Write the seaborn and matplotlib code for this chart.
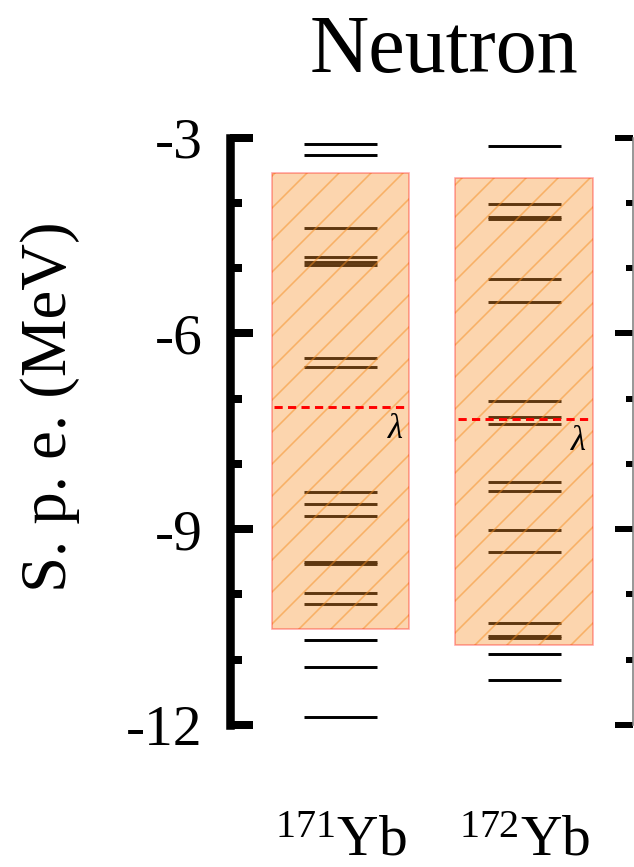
import numpy as np
import pandas as pd
import matplotlib
matplotlib.use("Agg")
import matplotlib.pyplot as plt
from matplotlib.ticker import MultipleLocator
import seaborn as sns

# ---------------- data ----------------
nuclei = ["171Yb", "172Yb"]
nucleus_labels = [r"$^{171}\mathrm{Yb}$", r"$^{172}\mathrm{Yb}$"]
levels_171 = [-3.09, -3.26, -4.38, -4.83, -4.90, -4.95, -6.37, -6.52,
              -8.43, -8.62, -8.79, -9.50, -9.54, -9.97, -10.15,
              -10.69, -11.11, -11.87]
levels_172 = [-3.12, -4.02, -4.21, -4.25, -5.17, -5.52, -7.03, -7.28,
              -7.38, -8.27, -8.41, -9.01, -9.35, -10.44, -10.63, -10.67,
              -10.91, -11.31]
fermi = [-7.12, -7.31]
window_top = [-3.54, -3.62]
window_bottom = [-10.53, -10.78]
yticks = [-3, -6, -9, -12]
ytick_labels = ["-3", "-6", "-9", "-12"]

# ---------------- style ----------------
sns.set_style("ticks")
plt.rcParams["font.family"] = ["Liberation Serif", "DejaVu Serif"]
plt.rcParams["mathtext.fontset"] = "custom"
plt.rcParams["mathtext.rm"] = "Liberation Serif"
plt.rcParams["mathtext.it"] = "Liberation Serif:italic"
plt.rcParams["hatch.linewidth"] = 0.6
plt.rcParams["axes.unicode_minus"] = False
plt.rcParams["text.color"] = "black"
plt.rcParams["xtick.labelcolor"] = "black"
plt.rcParams["ytick.labelcolor"] = "black"

DPI = 192
fig = plt.figure(figsize=(634 / DPI, 867 / DPI), dpi=DPI)
left, right, bottom, top = 230.3 / 634, 633.3 / 634, 1 - 725 / 867, 1 - 137.7 / 867
ax = fig.add_axes([left, bottom, right - left, top - bottom])
ax.set_facecolor("white")

df = pd.DataFrame({
    "nucleus": [nuclei[0]] * len(levels_171) + [nuclei[1]] * len(levels_172),
    "energy": levels_171 + levels_172,
})
positions = np.arange(len(nuclei))
pos_of = dict(zip(nuclei, positions))
df["x"] = df["nucleus"].map(pos_of)

# single-particle levels
ax.hlines(df["energy"], df["x"] - 0.2, df["x"] + 0.2, colors="black",
          linewidth=1.1, zorder=1)

# pairing window (hatched box)
heights = np.array(window_top) - np.array(window_bottom)
ax.bar(positions, heights, bottom=window_bottom, width=0.75,
       color=(0.976, 0.573, 0.173, 0.38),
       edgecolor=(0.96, 0.55, 0.12, 0.5), linewidth=0, hatch="//", zorder=2)
ax.bar(positions, heights, bottom=window_bottom, width=0.75, fill=False,
       edgecolor=(1, 0, 0, 0.35), linewidth=0.6, zorder=2.1)

# Fermi level
ax.hlines(fermi, positions - 0.36, positions + 0.36, colors="red",
          linestyles=(0, (2.8, 1.8)), linewidth=1.1, zorder=3)
for p, f in zip(positions, fermi):
    ax.text(p + 0.297, f - 0.35, r"$\lambda$", ha="center", va="center",
            fontsize=13, zorder=4)

# axes
ax.set_xlim(-0.6, 1.593)
ax.set_ylim(-12, -3)
ax.set_yticks(yticks)
ax.set_yticklabels(ytick_labels)
ax.yaxis.set_minor_locator(MultipleLocator(1))
ax.tick_params(axis="y", which="major", direction="in", length=8.5, width=3,
               pad=10.5, labelsize=21.5, left=True, right=False, color="black")
ax.tick_params(axis="y", which="minor", direction="in", length=4.4, width=3,
               left=True, right=False, color="black")
ax.set_xticks(positions)
ax.set_xticklabels(nucleus_labels, fontsize=21.5)
ax.tick_params(axis="x", length=0, pad=34)
for s in ["top", "bottom", "right"]:
    ax.spines[s].set_visible(False)
ax.spines["left"].set_linewidth(3.2)
ax.spines["left"].set_color("black")

ax2 = ax.twinx()
ax2.set_ylim(-12, -3)
ax2.set_yticks(yticks)
ax2.yaxis.set_minor_locator(MultipleLocator(1))
ax2.tick_params(axis="y", which="major", direction="in", length=6.75,
                width=2.25, labelright=False, color="black")
ax2.tick_params(axis="y", which="minor", direction="in", length=2.8,
                width=2.25, color="black")
for s in ["top", "bottom", "left"]:
    ax2.spines[s].set_visible(False)
ax2.spines["right"].set_linewidth(0.6)
ax2.spines["right"].set_color("gray")

fig.text(0.70, 1 - 72 / 867, "Neutron", ha="center", va="baseline",
         fontsize=30.75)
fig.text(50 / 634, 1 - 407 / 867, "S. p. e. (MeV)", rotation=90,
         ha="center", va="center", fontsize=24.3)

fig.savefig("out.png", dpi=DPI)
